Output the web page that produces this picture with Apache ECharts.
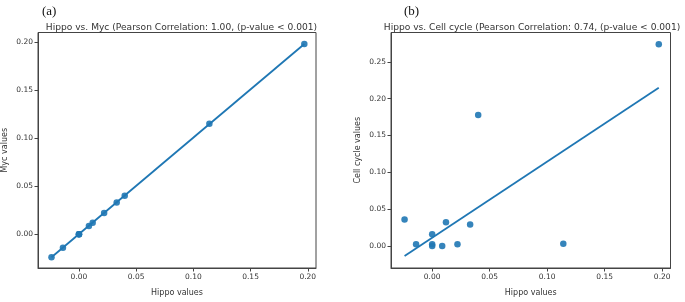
<!DOCTYPE html>
<html>
<head>
<meta charset="utf-8">
<script src="https://cdn.jsdelivr.net/npm/echarts@6/dist/echarts.min.js"></script>
<style>
  html, body { margin: 0; padding: 0; background: #fff; }
  #chart { width: 685px; height: 302px; }
</style>
</head>
<body>
<div id="chart"></div>
<script>
// values
var hippo     = [-0.024, -0.014, 0, 0, 0, 0.0087, 0.012, 0.022, 0.033, 0.040, 0.114, 0.197]
var myc       = [-0.024, -0.014, 0, 0, 0, 0.0086, 0.012, 0.022, 0.033, 0.040, 0.115, 0.198]
var cellCycle = [0.036, 0.0022, 0.016, 0.0022, 0, 0, 0.032, 0.0022, 0.029, 0.178, 0.003, 0.274]
// fitted line end points (as drawn)
var mycFit  = [[-0.024, -0.024], [0.197, 0.198]]
var cellFit = [[-0.024, -0.0137], [0.197, 0.215]]
var xTicks     = [0, 0.05, 0.10, 0.15, 0.20]
var mycTicks   = [0, 0.05, 0.10, 0.15, 0.20]
var cellTicks  = [0, 0.05, 0.10, 0.15, 0.20, 0.25]

var blue = '#1f77b4'
var font = 'DejaVu Sans'
var txt = '#333'

function pairs(xs, ys){
    return xs.map((x, i) => [x, ys[i]])
}

function xAx(idx){
    return {
        type: 'value', gridIndex: idx,
        min: -0.0358, max: 0.2072,
        name: 'Hippo values', nameLocation: 'middle', nameGap: 21,
        nameTextStyle: { fontFamily: font, fontSize: 8, color: txt },
        axisLine: { show: true, onZero: false, lineStyle: { color: '#444', width: 1 } },
        axisTick: { show: true, inside: false, length: 3.5, lineStyle: { color: '#444' }, customValues: xTicks },
        axisLabel: { fontFamily: font, fontSize: 7.5, color: txt, margin: 5, customValues: xTicks, formatter: v => v.toFixed(2) },
        splitLine: { show: false }
    }
}

function yAx(idx, min, max, ticks, name){
    return {
        type: 'value', gridIndex: idx,
        min: min, max: max,
        name: name, nameLocation: 'middle', nameGap: 29, nameRotate: 90,
        nameTextStyle: { fontFamily: font, fontSize: 8, color: txt },
        axisLine: { show: true, onZero: false, lineStyle: { color: '#444', width: 1 } },
        axisTick: { show: true, inside: false, length: 3.5, lineStyle: { color: '#444' }, customValues: ticks },
        axisLabel: { fontFamily: font, fontSize: 7.5, color: txt, margin: 5, customValues: ticks, formatter: v => v.toFixed(2) },
        splitLine: { show: false }
    }
}

var chart = echarts.init(document.getElementById('chart'), null, { renderer: 'canvas' })
chart.setOption({
    animation: false,
    backgroundColor: '#fff',
    title: [
        { text: '(a)', left: 37, top: 0, textStyle: { fontFamily: 'Liberation Serif', fontSize: 13, fontWeight: 'normal', color: '#111' } },
        { text: '(b)', left: 399, top: 0, textStyle: { fontFamily: 'Liberation Serif', fontSize: 13, fontWeight: 'normal', color: '#111' } },
        { text: 'Hippo vs. Myc (Pearson Correlation: 1.00, (p-value < 0.001)', left: 176.5, top: 18.5, textAlign: 'center',
          textStyle: { fontFamily: font, fontSize: 9.1, fontWeight: 'normal', color: txt } },
        { text: 'Hippo vs. Cell cycle (Pearson Correlation: 0.74, (p-value < 0.001)', left: 527, top: 18.5, textAlign: 'center',
          textStyle: { fontFamily: font, fontSize: 9.1, fontWeight: 'normal', color: txt } }
    ],
    grid: [
        { left: 36.5, right: 369, top: 32.5, bottom: 32.5, show: true, borderColor: '#444', borderWidth: 1, backgroundColor: 'transparent' },
        { left: 391, right: 14.5, top: 32.5, bottom: 30.5, show: true, borderColor: '#444', borderWidth: 1, backgroundColor: 'transparent' }
    ],
    xAxis: [xAx(0), xAx(1)],
    yAxis: [
        yAx(0, -0.0352, 0.210, mycTicks, 'Myc values'),
        yAx(1, -0.030, 0.290, cellTicks, 'Cell cycle values')
    ],
    series: [
        { type: 'line', xAxisIndex: 0, yAxisIndex: 0, data: mycFit, showSymbol: false, lineStyle: { color: blue, width: 1.8 } },
        { type: 'scatter', xAxisIndex: 0, yAxisIndex: 0, data: pairs(hippo, myc), symbolSize: 6.5, itemStyle: { color: blue, opacity: 0.9 } },
        { type: 'line', xAxisIndex: 1, yAxisIndex: 1, data: cellFit, showSymbol: false, lineStyle: { color: blue, width: 1.8 } },
        { type: 'scatter', xAxisIndex: 1, yAxisIndex: 1, data: pairs(hippo, cellCycle), symbolSize: 6.5, itemStyle: { color: blue, opacity: 0.9 } }
    ]
})
</script>
</body>
</html>
